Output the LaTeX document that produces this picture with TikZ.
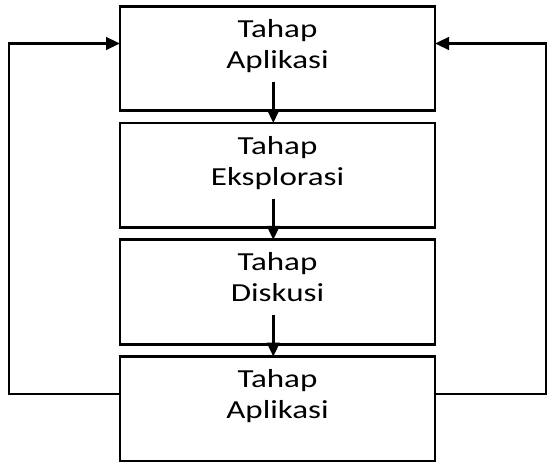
\documentclass[tikz,border=0pt]{standalone}
\usepackage{fontspec}
\setmainfont{Carlito}
\usepackage{graphicx}
\usetikzlibrary{arrows.meta, positioning, calc}

\tikzset{
  tahap/.style={draw, line width=2.7pt, outer sep=0pt, minimum width=315pt, minimum height=104.5pt, inner sep=0pt},
  tulisan/.style={anchor=base, inner sep=0pt, font=\fontsize{26}{31}\selectfont},
  panah/.style={line width=2.7pt, -{Triangle[length=14pt,width=12.5pt]}}
}
\newcommand{\namatahap}[1]{\scalebox{1.27}[1]{\begin{tabular}[t]{@{}c@{}}Tahap\\#1\end{tabular}}}

\begin{document}
\begin{tikzpicture}[x=1pt,y=1pt]
      \useasboundingbox (0,0) rectangle (550,-462);

      \node[tahap] (aplikasi) at (277.5,-58.5) {};
      \node[tahap, below=12.3pt of aplikasi] (eksplorasi) {};
      \node[tahap, below=12.3pt of eksplorasi] (diskusi) {};
      \node[tahap, below=12.3pt of diskusi] (aplikasidua) {};

      \foreach \b/\t in {aplikasi/Aplikasi, eksplorasi/Eksplorasi, diskusi/Diskusi, aplikasidua/Aplikasi}
        \node[tulisan] (teks-\b) at ([yshift=-31pt]\b.north) {\namatahap{\t}};

      \foreach \a/\b in {aplikasi/eksplorasi, eksplorasi/diskusi, diskusi/aplikasidua}
        \draw[panah] ([shift={(-4.2pt,29pt)}]\a.south) -- ([xshift=-4.2pt]\b.north);

      \draw[panah] ([yshift=15pt]aplikasidua.west) -- ++(-111pt,0) |- ([yshift=15pt]aplikasi.west);
      \draw[panah] ([yshift=15pt]aplikasidua.east) -- ++(111pt,0) |- ([yshift=15pt]aplikasi.east);

    \end{tikzpicture}
\end{document}
